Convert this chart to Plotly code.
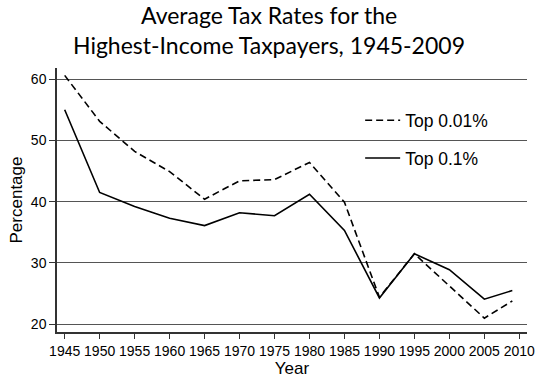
import plotly.graph_objects as go

years = [1945, 1950, 1955, 1960, 1965, 1970, 1975, 1980, 1985, 1990, 1995, 2000, 2005, 2009]
top_001 = [60.6, 53.1, 48.2, 44.9, 40.4, 43.4, 43.6, 46.4, 39.9, 24.4, 31.5, 26.2, 21.0, 23.8]
top_01 = [55.0, 41.5, 39.2, 37.3, 36.1, 38.2, 37.7, 41.2, 35.3, 24.3, 31.5, 28.9, 24.1, 25.5]
x_ticks = list(range(1945, 2011, 5))
y_ticks = [20, 30, 40, 50, 60]
title_lines = ["Average Tax Rates for the", "Highest-Income Taxpayers, 1945-2009"]

fig = go.Figure()
fig.add_trace(go.Scatter(x=years, y=top_001, mode="lines", name="Top 0.01%",
                         legendgroup="a",
                         line=dict(color="black", width=1.6, dash="7px,4px")))
fig.add_trace(go.Scatter(x=years, y=top_01, mode="lines", name="Top 0.1%",
                         legendgroup="b",
                         line=dict(color="black", width=1.6)))

fig.update_layout(
    width=554, height=380,
    margin=dict(l=57, r=27, t=68, b=48, autoexpand=False),
    paper_bgcolor="white", plot_bgcolor="white",
    font=dict(family="Liberation Sans, Arial, sans-serif", color="black", size=14),
    showlegend=True,
    legend=dict(x=0.645, y=0.87, xanchor="left", yanchor="top",
                bgcolor="rgba(0,0,0,0)", font=dict(size=17.5),
                traceorder="grouped", tracegroupgap=12, itemwidth=35),
    annotations=[
        dict(text=title_lines[0], xref="paper", yref="paper", x=0.452, y=(332 - 15) / 264,
             xanchor="center", yanchor="middle", showarrow=False,
             font=dict(family="Lato, Open Sans, sans-serif", size=23, color="black")),
        dict(text=title_lines[1], xref="paper", yref="paper", x=0.452, y=(332 - 45) / 264,
             xanchor="center", yanchor="middle", showarrow=False,
             font=dict(family="Lato, Open Sans, sans-serif", size=23, color="black")),
    ],
)
fig.update_xaxes(range=[1943.9, 2011.1], tickmode="array", tickvals=x_ticks,
                 ticktext=[str(t) for t in x_ticks], automargin=False,
                 showgrid=False, zeroline=False, showline=True, linecolor="#333",
                 linewidth=1.5, ticks="outside", ticklen=5, tickwidth=1.2, tickcolor="#333",
                 tickfont=dict(size=14),
                 title=dict(text="Year", font=dict(size=17), standoff=2))
fig.update_yaxes(range=[18.74, 61.8], tickmode="array", tickvals=y_ticks,
                 automargin=False,
                 showgrid=True, gridcolor="#555", gridwidth=1.3, zeroline=False,
                 showline=True, linecolor="#333", linewidth=1.5,
                 ticks="outside", ticklen=6, tickwidth=1.2, tickcolor="#333",
                 tickfont=dict(size=14),
                 title=dict(text="Percentage", font=dict(size=17), standoff=4))

fig.write_html("out.html", config={"displayModeBar": False},
               post_script="document.body.style.margin='0';")
